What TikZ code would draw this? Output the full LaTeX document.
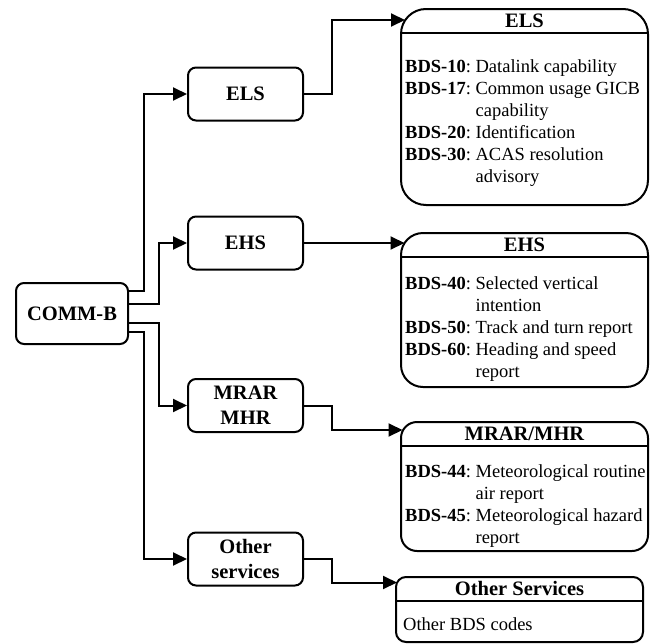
\documentclass[tikz,border=0pt]{standalone}
\usepackage{fontspec}
\setmainfont{Liberation Serif}
\usetikzlibrary{arrows.meta, positioning, calc}

\begin{document}
\begin{tikzpicture}[x=1pt, y=-1pt,
  box/.style={draw, line width=2pt, rounded corners=8pt, minimum width=115pt, minimum height=53pt, align=center, inner sep=2pt, font=\fontsize{20.5}{25}\selectfont\bfseries},
  lane/.style={draw, line width=2pt, minimum width=247pt, anchor=north west, inner sep=0pt, outer sep=0pt},
  lanetitle/.style={minimum width=247pt, minimum height=24pt, anchor=north, inner sep=0pt, outer sep=0pt, text height=13.6pt, text depth=0pt, font=\fontsize{20.5}{24}\selectfont\bfseries},
  codes/.style={anchor=base west, inner sep=0pt, font=\fontsize{18.5}{22}\selectfont},
  link/.style={line width=2pt, -{Triangle[length=14pt, width=13pt]}},
]
  \useasboundingbox (0,0) rectangle (659,643);

  \node[box, minimum width=112pt, minimum height=61pt] (commb) at (72,313.5) {COMM-B};
  \node[box] (mels) at (245.5,94) {ELS};
  \node[box] (mehs) at (245.5,243) {EHS};
  \node[box] (mmrar) at (245.5,405.5) {MRAR\\MHR};
  \node[box] (moth) at (245.5,559) {Other\\services};

  \node[lane, minimum height=196pt, rounded corners=25pt] (rels) at (401,9) {};
  \node[lanetitle] (rels-t) at (rels.north) {ELS};
  \draw[line width=2pt] (rels-t.south west) -- (rels-t.south east);
  \node[codes] (rels-b) at (405,72) {\begin{tabular}[t]{@{}l@{\ }l@{}}
    \textbf{BDS-10}: & Datalink capability\\
    \textbf{BDS-17}: & Common usage GICB\\
     & capability\\
    \textbf{BDS-20}: & Identification\\
    \textbf{BDS-30}: & ACAS resolution\\
     & advisory
  \end{tabular}};

  \node[lane, minimum height=154pt, rounded corners=22pt] (rehs) at (401,233) {};
  \node[lanetitle] (rehs-t) at (rehs.north) {EHS};
  \draw[line width=2pt] (rehs-t.south west) -- (rehs-t.south east);
  \node[codes] (rehs-b) at (405,289) {\begin{tabular}[t]{@{}l@{\ }l@{}}
    \textbf{BDS-40}: & Selected vertical\\
     & intention\\
    \textbf{BDS-50}: & Track and turn report\\
    \textbf{BDS-60}: & Heading and speed\\
     & report
  \end{tabular}};

  \node[lane, minimum height=129pt, rounded corners=16pt] (rmrar) at (401,422) {};
  \node[lanetitle] (rmrar-t) at (rmrar.north) {MRAR/MHR};
  \draw[line width=2pt] (rmrar-t.south west) -- (rmrar-t.south east);
  \node[codes] (rmrar-b) at (405,477) {\begin{tabular}[t]{@{}l@{\ }l@{}}
    \textbf{BDS-44}: & Meteorological routine\\
     & air report\\
    \textbf{BDS-45}: & Meteorological hazard\\
     & report
  \end{tabular}};

  \node[lane, minimum height=65pt, rounded corners=10pt] (roth) at (396,577) {};
  \node[lanetitle] (roth-t) at (roth.north) {Other Services};
  \draw[line width=2pt] (roth-t.south west) -- (roth-t.south east);
  \node[codes] (roth-b) at (403,630) {Other BDS codes};

  \draw[link] ([yshift=22.5pt]commb.east) -- ++(15,0) |- (mels.west);
  \draw[link] ([yshift=9.5pt]commb.east) -- ++(30,0) |- (mehs.west);
  \draw[link] ([yshift=-9.5pt]commb.east) -- ++(30,0) |- (mmrar.west);
  \draw[link] ([yshift=-18.5pt]commb.east) -- ++(15,0) |- (moth.west);

  \draw[link, shorten >=-4pt] (mels.east) -- ++(28,0) |- ([yshift=1pt]rels-t.west);
  \draw[link, shorten >=-3.5pt] (mehs.east) -- (mehs.east -| rehs-t.west);
  \draw[link, shorten >=-1.5pt] (mmrar.east) -- ++(28,0) |- ([yshift=4pt]rmrar-t.west);
  \draw[link, shorten >=-1pt] (moth.east) -- ++(28,0) |- ([yshift=6.5pt]roth-t.west);
\end{tikzpicture}
\end{document}
